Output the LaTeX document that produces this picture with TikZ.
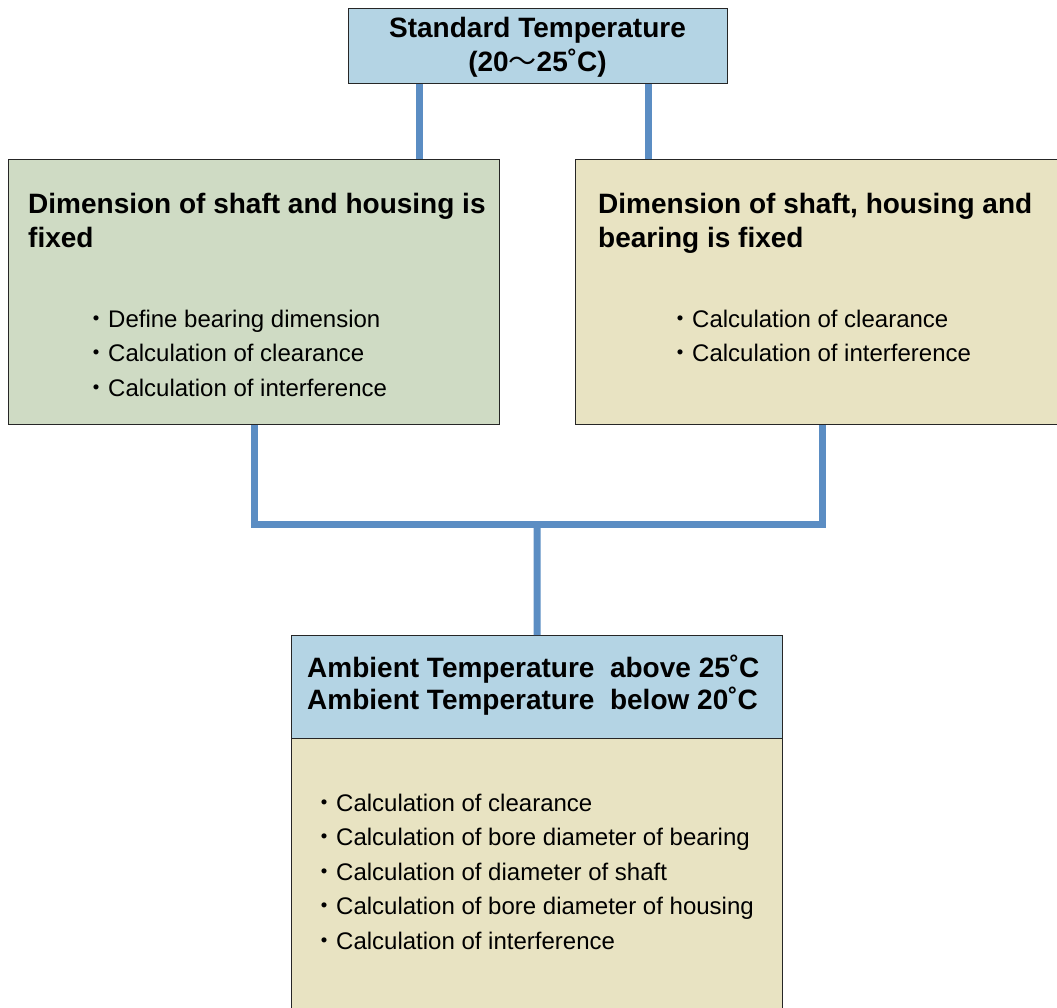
\documentclass[tikz,border=0pt]{standalone}
\usepackage{fontspec}
\setmainfont{Liberation Sans}
\newfontfamily\cjk{Noto Sans CJK JP}
\usepackage{xcolor}
\usetikzlibrary{positioning}

\definecolor{boxblue}{HTML}{B4D4E4}
\definecolor{boxgreen}{HTML}{CFDBC4}
\definecolor{boxtan}{HTML}{E8E3C2}
\definecolor{linkblue}{HTML}{5B8DC3}

\newcommand{\bul}{{\cjk ・}}
\newcommand{\tld}{{\cjk\mdseries ～}}

\begin{document}
\begin{tikzpicture}[x=1pt, y=-1pt,
    box/.style={rectangle, draw=black!85, line width=1.2pt, anchor=north west, inner sep=0pt},
    link/.style={draw=linkblue, line width=7pt},
    head/.style={font=\fontsize{28}{34}\selectfont\bfseries, align=left, anchor=base west, inner sep=0pt},
    item/.style={font=\fontsize{24}{34.5}\selectfont, align=left, anchor=base west, inner sep=0pt}]
    \useasboundingbox (0,0) rectangle (1057,1008);

    % boxes
    \node[box, fill=boxblue, minimum width=379pt, minimum height=75pt] (std) at (348,8) {};
    \node[box, fill=boxgreen, minimum width=491pt, minimum height=265pt] (left) at (8,159) {};
    \node[box, fill=boxtan, minimum width=494pt, minimum height=265pt] (right) at (575,159) {};
    \node[box, fill=boxblue, minimum width=491pt, minimum height=103pt] (amb) at (291,635) {};
    \node[box, fill=boxtan, minimum width=491pt, minimum height=280pt] (calc) at (291,738) {};

    % texts (base = last line)
    \node[head, align=center, anchor=base] (stdtxt) at (537.5,72) {Standard Temperature\\(20\tld25˚C)};
    \node[head] (lefthead) at (28,248) {Dimension of shaft and housing is\\fixed};
    \node[item] (leftitems) at (84,396) {\bul Define bearing dimension\\\bul Calculation of clearance\\\bul Calculation of interference};
    \node[head] (righthead) at (598,248) {Dimension of shaft, housing and\\bearing is fixed};
    \node[item] (rightitems) at (668,361.5) {\bul Calculation of clearance\\\bul Calculation of interference};
    \node[head, font=\fontsize{28}{32}\selectfont\bfseries] (ambtxt) at (307,709) {Ambient Temperature\ \ above 25˚C\\Ambient Temperature\ \ below 20˚C};
    \node[item] (calcitems) at (312,949) {\bul Calculation of clearance\\\bul Calculation of bore diameter of bearing\\\bul Calculation of diameter of shaft\\\bul Calculation of bore diameter of housing\\\bul Calculation of interference};

    % connectors
    \coordinate (hbar) at (537,524);
    \draw[link] ([xshift=-118.5pt]std.south) -- ([xshift=-118.5pt]std.south |- left.north);
    \draw[link] ([xshift=110.5pt]std.south) -- ([xshift=110.5pt]std.south |- right.north);
    \draw[link] (left.south) |- (hbar) -| (right.south);
    \draw[link] (hbar) -- (amb.north);
\end{tikzpicture}
\end{document}
